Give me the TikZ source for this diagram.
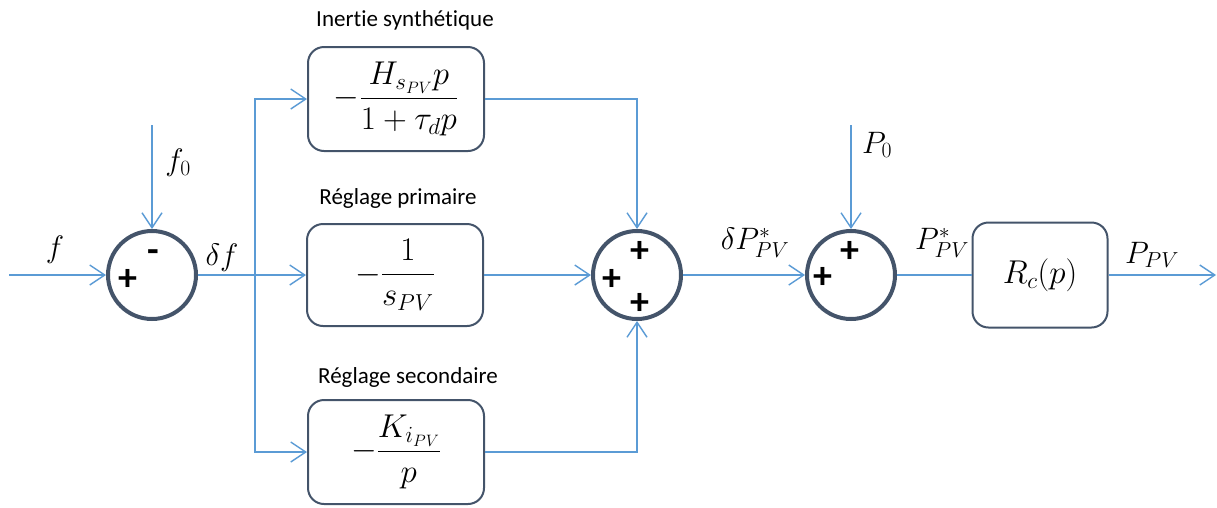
\RequirePackage{fix-cm}
\documentclass[tikz,border=0pt]{standalone}
\usepackage{amsmath}
\usepackage{fontspec}
\setmainfont{Carlito}[Ligatures=NoCommon]
\usetikzlibrary{arrows.meta,positioning}

\definecolor{linkblue}{RGB}{91,155,213}
\definecolor{slate}{RGB}{68,84,106}

\begin{document}
\begin{tikzpicture}[x=1pt,y=-1pt,
  font=\fontsize{23}{27}\selectfont,
  mathlab/.style={font=\fontsize{31}{36}\selectfont},
  sumnode/.style={circle,draw=slate,line width=4pt,minimum size=88pt,inner sep=0pt},
  blockbox/.style={font=\fontsize{33}{38}\selectfont,draw=slate,line width=2pt,rounded corners=16pt,minimum width=176pt,minimum height=104pt,inner sep=0pt},
  link/.style={draw=linkblue,line width=1.4pt},
  arr/.style={link,-{Straight Barb[length=15pt,width=20pt,line width=1.4pt]}},
  sign/.style={font=\fontsize{38}{40}\selectfont\bfseries,inner sep=0pt}]
\useasboundingbox (0,0) rectangle (1217,507);

% summing junctions
\node[sumnode] (s1) at (152,275) {};
\node[sumnode] (s2) at (637,275) {};
\node[sumnode] (s3) at (851,275) {};

\node[sign] at (128,280) {+};
\node[sign] at (153,256) {-};
\node[sign] at (640,252) {+};
\node[sign] at (612,280) {+};
\node[sign] at (640,304) {+};
\node[sign] at (850,252) {+};
\node[sign] at (823,278) {+};

% blocks
\node[blockbox] (b1) at (396,99) {$-\dfrac{H_{s_{PV}}p}{1+\tau_d p}$};
\node[blockbox,minimum height=102pt] (b2) at (395,275) {$-\dfrac{1}{s_{PV}}$};
\node[blockbox] (b3) at (396,452) {$-\dfrac{K_{i_{PV}}}{p}$};
\node[blockbox,minimum width=135pt,minimum height=105pt] (b4) at (1040,275) {$R_c(p)$};

\node (t1) at (405,20) {Inertie synthétique};
\node (t2) at (398,198) {Réglage primaire};
\node (t3) at (408,377) {Réglage secondaire};

% free ends
\coordinate (in) at (9,275);
\coordinate (f0top) at (152,125);
\coordinate (br) at (255,275);
\coordinate (p0top) at (851,125);
\coordinate (out) at (1216,275);

% connectors
\draw[arr] (in) -- (s1);
\draw[arr] (f0top) -- (s1);
\draw[link] (s1) -- (br);
\draw[arr] (br) |- (b1);
\draw[arr] (br) -- (b2);
\draw[arr] (br) |- (b3);
\draw[arr] (b1) -| (s2);
\draw[arr] (b2) -- (s2);
\draw[arr] (b3) -| (s2);
\draw[arr] (s2) -- (s3);
\draw[arr] (p0top) -- (s3);
\draw[link] (s3) -- (b4);
\draw[arr] (b4) -- (out);

% signal labels
\node[mathlab] (lf) at (55,250) {$f$};
\node[mathlab] (lf0) at (178,163) {$f_0$};
\node[mathlab] (ldf) at (222,258) {$\delta f$};
\node[mathlab] (ldp) at (755,243) {$\delta P^*_{PV}$};
\node[mathlab] (lp0) at (877,145) {$P_0$};
\node[mathlab] (lps) at (942,243) {$P^*_{PV}$};
\node[mathlab] (lpv) at (1152,255) {$P_{PV}$};
\end{tikzpicture}
\end{document}
